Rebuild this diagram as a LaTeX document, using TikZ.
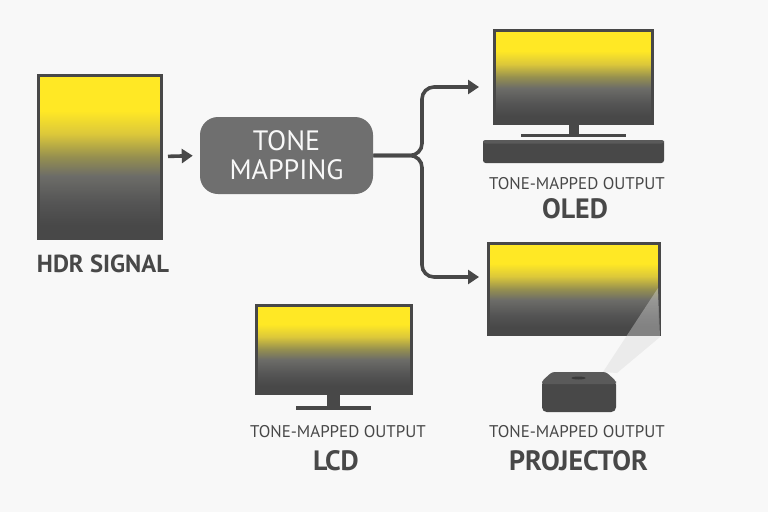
\documentclass[tikz,border=0pt]{standalone}
\usepackage{fontspec}
\usepackage{tkz-euclide}
\usepackage{xcolor}
\usetikzlibrary{arrows.meta,calc,shapes.geometric}
\setmainfont{PT Sans}

\def\px{0.75pt}
\definecolor{paper}{HTML}{F8F8F8}
\definecolor{ink}{HTML}{484848}
\definecolor{slab}{HTML}{6F6F6F}
\definecolor{inktop}{HTML}{5A5A5A}
\definecolor{sunny}{HTML}{FFE825}
\definecolor{amber}{HTML}{DCC83A}
\definecolor{olive}{HTML}{96904F}
\definecolor{dim}{HTML}{6C6C68}
\definecolor{shade}{HTML}{555555}

\pgfdeclareverticalshading{fade}{100bp}{
  color(0bp)=(ink); color(25bp)=(ink); color(29bp)=(ink); color(36bp)=(shade); color(44bp)=(dim);
  color(50bp)=(olive); color(57bp)=(amber); color(64bp)=(sunny); color(75bp)=(sunny); color(100bp)=(sunny)}

\tikzset{
  panel/.style 2 args={draw=ink, line width=3*\px, shading=fade, inner sep=0,
    minimum width=#1*\px, minimum height=#2*\px},
  solid part/.style={fill=ink, draw=none, inner sep=0},
  link/.style={draw=ink, line width=3.6*\px, rounded corners=9pt,
    -{Triangle[length=11*\px,width=14*\px]}},
  smalltext/.style={text=ink, font=\fontsize{12.7}{14}\selectfont, inner sep=0},
  bigtext/.style={text=ink, font=\fontsize{21}{23}\selectfont\bfseries, inner sep=0},
}

\begin{document}
\begin{tikzpicture}[x=0.75pt,y=-0.75pt]
    \useasboundingbox[fill=paper] (0,0) rectangle (768,512);

    % source
    \node[panel={123}{163}] (hdr) at (100,156.5) {};
    \node[bigtext, font=\fontsize{18.5}{20}\selectfont\bfseries] (hdr_label) at (103,264) {HDR SIGNAL};

    % mapping block
    \node[fill=slab, rounded corners=13.5pt, inner sep=0, minimum width=173*\px,
      minimum height=77*\px, align=center, text=paper,
      font=\fontsize{21}{21.5}\selectfont] (tone) at (286.5,155.5) {TONE\\MAPPING};

    % oled
    \node[panel={158}{93}] (oled) at (573.5,77) {};
    \node[solid part, minimum width=10*\px, minimum height=10*\px] (oled_neck) at (574,130) {};
    \node[solid part, minimum width=105*\px, minimum height=3.5*\px] (oled_foot) at (573,135.5) {};
    \node[solid part, rounded corners=2pt, minimum width=181*\px, minimum height=23*\px] (oled_bar) at (573.5,151.5) {};
    \fill[inktop, rounded corners=2pt] (483,143.5) -- (483,140) -- (664,140) -- (664,143.5) -- cycle;
    \node[smalltext] (oled_note) at (577,184) {TONE-MAPPED OUTPUT};
    \node[bigtext] (oled_label) at (575,209) {OLED};

    % projector
    \node[panel={171}{91}] (proj) at (574,289) {};
    \fill[gray!30, opacity=0.4] (603,372) -- (658,288) -- (660,337) -- (617,373) -- cycle;
    \node[solid part, rounded corners=3.5pt, minimum width=74*\px, minimum height=32*\px] (proj_box) at (579,396) {};
    \fill[inktop, rounded corners=2pt] (542,384) -- (542,381) -- (552,372) -- (606,372) -- (616,381) -- (616,384) -- cycle;
    \node[ellipse, fill=ink!80!black, inner sep=0, minimum width=14*\px, minimum height=3*\px] (proj_lens) at (578.5,378) {};
    \node[smalltext] (proj_note) at (577,432) {TONE-MAPPED OUTPUT};
    \node[bigtext] (proj_label) at (578.5,461) {PROJECTOR};

    % lcd
    \node[panel={155}{88}] (lcd) at (334,349) {};
    \node[solid part, minimum width=13*\px, minimum height=13*\px] (lcd_neck) at (333,400) {};
    \node[solid part, minimum width=75*\px, minimum height=4*\px] (lcd_foot) at (333.5,407.5) {};
    \node[smalltext] (lcd_note) at (338,432) {TONE-MAPPED OUTPUT};
    \node[bigtext] (lcd_label) at (336,461) {LCD};

    % connectors
    \tkzDefPoint(422,87){oled_turn}
    \tkzDefPoint(479,87){oled_in}
    \tkzDefPoint(422,277){proj_turn}
    \tkzDefPoint(479,277){proj_in}
    \draw[link, shorten <=5*\px, shorten >=7*\px] (hdr.east) -- (tone.west);
    \draw[link] (tone.east) -| (oled_turn) -- (oled_in);
    \draw[link] (tone.east) -| (proj_turn) -- (proj_in);
\end{tikzpicture}
\end{document}
